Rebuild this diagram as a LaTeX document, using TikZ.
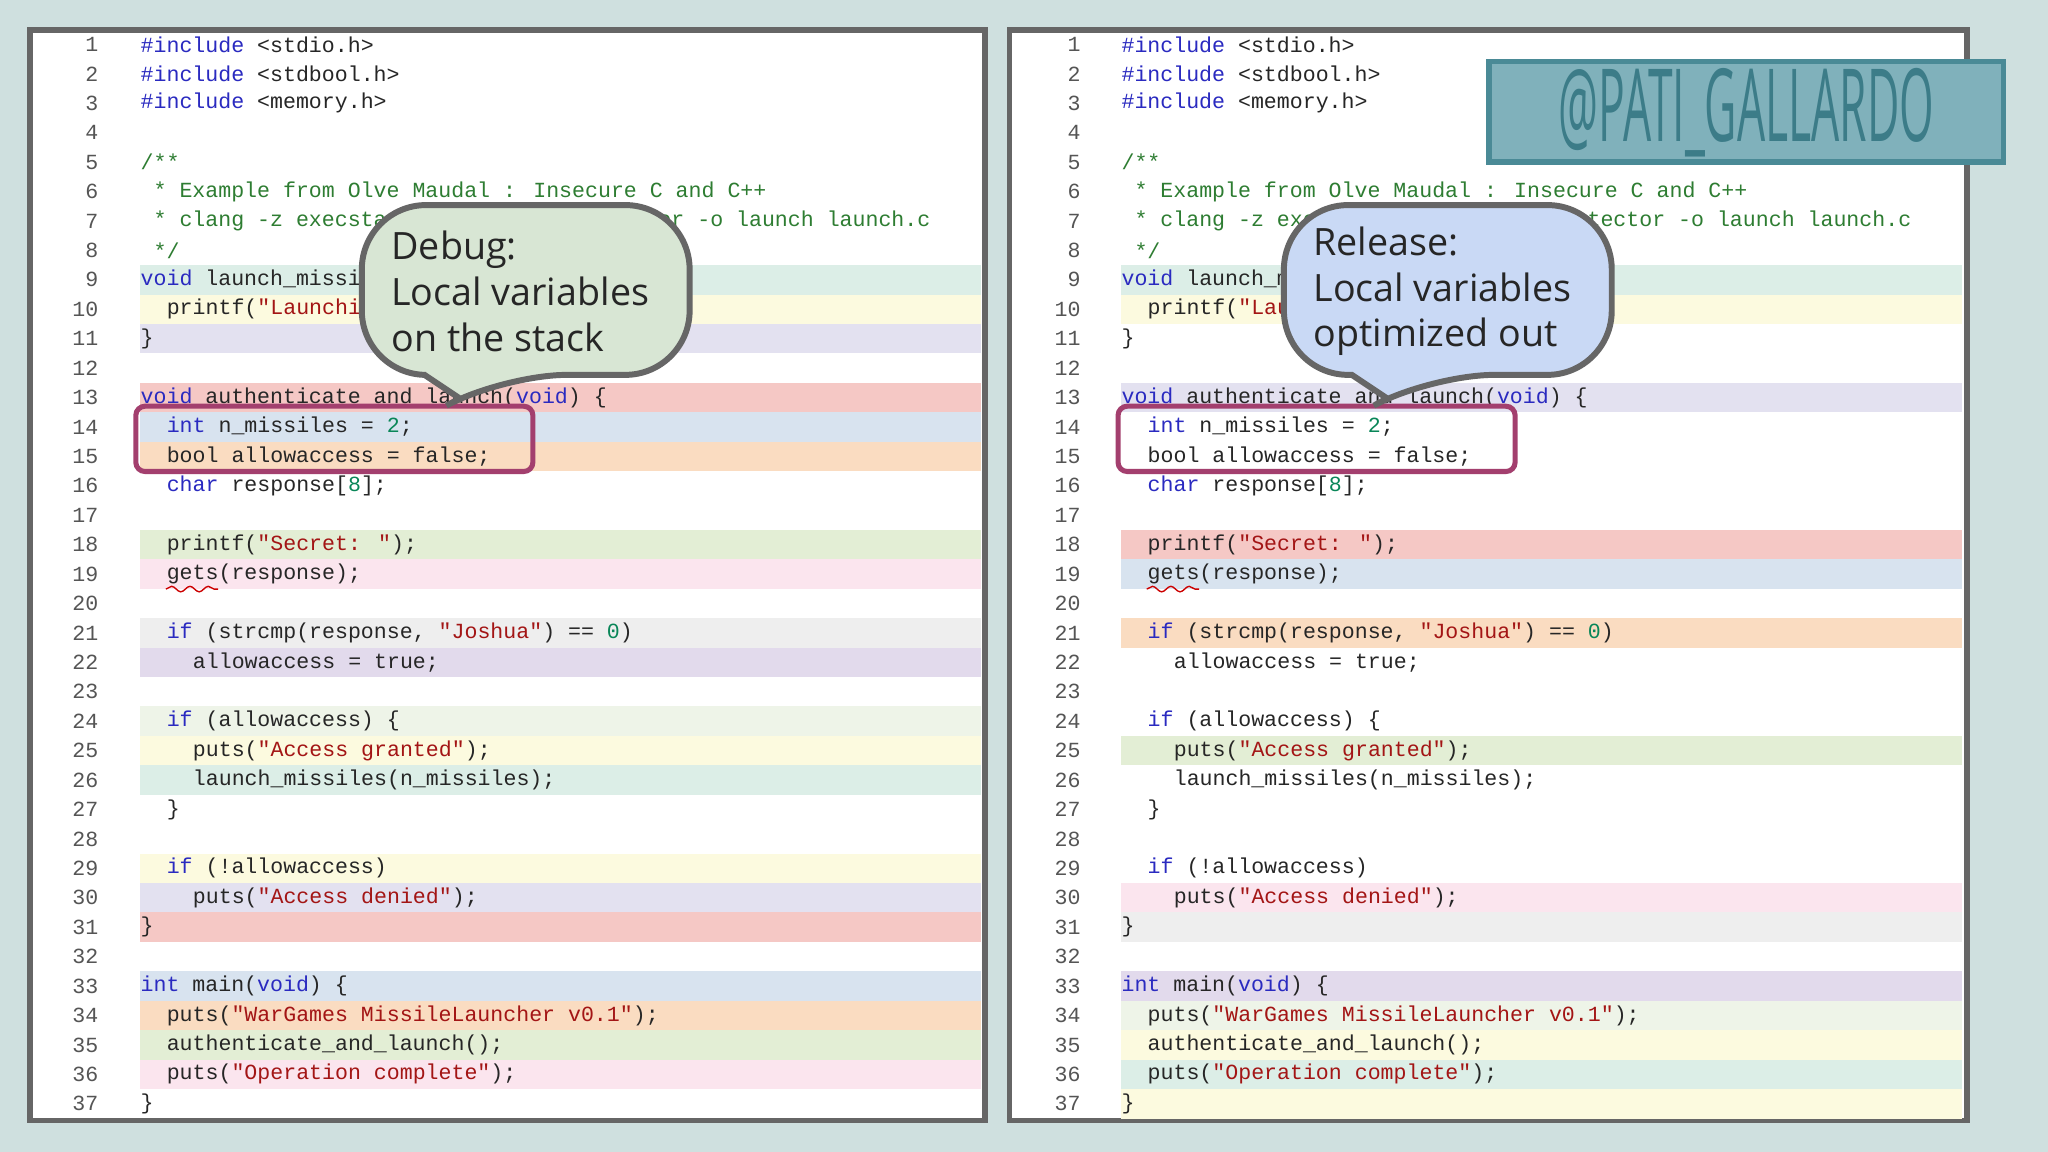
\documentclass[tikz,border=0pt]{standalone}
\usepackage{fontspec}
\usetikzlibrary{decorations.pathmorphing}
\newfontfamily\codefont{Liberation Mono}
\newfontfamily\calfont{Open Sans}
\definecolor{bg}{HTML}{CFE0DF}
\definecolor{frame}{HTML}{666666}
\definecolor{kwc}{HTML}{2A2AC0}
\definecolor{stc}{HTML}{A31515}
\definecolor{nmc}{HTML}{098658}
\definecolor{cmc}{HTML}{2E7D32}
\definecolor{lnc}{HTML}{555555}
\definecolor{cTeal}{HTML}{DCEEE7}
\definecolor{cYel}{HTML}{FCFADF}
\definecolor{cLav}{HTML}{E3E1F0}
\definecolor{cRed}{HTML}{F5C8C5}
\definecolor{cBlue}{HTML}{D8E3EF}
\definecolor{cOr}{HTML}{FADCC1}
\definecolor{cGrn}{HTML}{E3EED5}
\definecolor{cPink}{HTML}{FBE5EE}
\definecolor{cGray}{HTML}{EEEEEE}
\definecolor{cPur}{HTML}{E2DAEC}
\definecolor{cLg}{HTML}{EEF4E8}
\definecolor{boxred}{HTML}{A33F6E}
\definecolor{dbg}{HTML}{D8E6D4}
\definecolor{rel}{HTML}{C9D9F5}
\definecolor{stamp}{HTML}{80B1BB}
\definecolor{stampb}{HTML}{4A8A96}
\definecolor{stampt}{HTML}{3C7C88}
\newcommand\kw[1]{\textcolor{kwc}{#1}}
\newcommand\st[1]{\textcolor{stc}{#1}}
\newcommand\nm[1]{\textcolor{nmc}{#1}}
\newcommand\cm[1]{\textcolor{cmc}{#1}}
\newcommand\cL[3]{\node[code] (cl#1) at ({107+#2*20},{34+(#1-1)*22.53}) {#3};}
\newcommand\cR[3]{\node[code] (cr#1) at ({858+#2*20},{34+(#1-1)*22.53}) {#3};}
\newcommand\bL[2]{\fill[#2] (107,{34+(#1-1)*22.53-11.3}) rectangle (751,{34+(#1-1)*22.53+11.3});}
\newcommand\bR[2]{\fill[#2] (858,{34+(#1-1)*22.53-11.3}) rectangle (1502,{34+(#1-1)*22.53+11.3});}
\tikzset{code/.style={anchor=west,inner sep=0pt,font=\codefont\fontsize{4.7}{6}\selectfont,text=black!85},
lnum/.style={anchor=east,inner sep=0pt,font=\codefont\fontsize{4.7}{6}\selectfont,text=lnc},
panel/.style={fill=white,draw=frame,line width=1.2pt},
callout/.style={draw=frame,line width=1.3pt},
hl/.style={draw=boxred,line width=1.1pt,rounded corners=2pt},
calt/.style={anchor=west,align=left,inner sep=0pt,font=\calfont\fontsize{8.2}{10}\selectfont,text=black!85},
squig/.style={draw=red!80!black,line width=0.3pt,decorate,decoration={snake,amplitude=0.6,segment length=4}}}
\begin{document}
\begin{tikzpicture}[x=0.1mm,y=-0.1mm]
\fill[bg] (0,0) rectangle (1568,882);
\useasboundingbox (0,0) rectangle (1568,882);
\draw[panel] (23,23) rectangle (754,858);
\draw[panel] (773,23) rectangle (1506,858);
% bands left
\bL{9}{cTeal}\bL{10}{cYel}\bL{11}{cLav}\bL{13}{cRed}\bL{14}{cBlue}\bL{15}{cOr}
\bL{18}{cGrn}\bL{19}{cPink}\bL{21}{cGray}\bL{22}{cPur}\bL{24}{cLg}\bL{25}{cYel}
\bL{26}{cTeal}\bL{29}{cYel}\bL{30}{cLav}\bL{31}{cRed}\bL{33}{cBlue}\bL{34}{cOr}
\bL{35}{cGrn}\bL{36}{cPink}
% bands right
\bR{9}{cTeal}\bR{10}{cYel}\bR{13}{cLav}\bR{18}{cRed}\bR{19}{cBlue}\bR{21}{cOr}
\bR{25}{cGrn}\bR{30}{cPink}\bR{31}{cGray}\bR{33}{cPur}\bR{34}{cLg}\bR{35}{cYel}
\bR{36}{cTeal}\bR{37}{cYel}
\foreach \i in {1,...,37}{
 \node[lnum] (nl\i) at (76,{34+(\i-1)*22.53}) {\i};
 \node[lnum] (nr\i) at (828,{34+(\i-1)*22.53}) {\i};}
\foreach \P in {L,R}{
\csname c\P\endcsname{1}{0}{\kw{\#include} <stdio.h>}
\csname c\P\endcsname{2}{0}{\kw{\#include} <stdbool.h>}
\csname c\P\endcsname{3}{0}{\kw{\#include} <memory.h>}
\csname c\P\endcsname{5}{0}{\cm{/**}}
\csname c\P\endcsname{6}{0}{\cm{\ * Example from Olve Maudal : Insecure C and C++}}
\csname c\P\endcsname{7}{0}{\cm{\ * clang -z execstack -fno-stack-protector -o launch launch.c}}
\csname c\P\endcsname{8}{0}{\cm{\ */}}
\csname c\P\endcsname{9}{0}{\kw{void} launch\_missiles(\kw{int} n) \{}
\csname c\P\endcsname{10}{1}{printf(\st{"Launching \%d missiles"});}
\csname c\P\endcsname{11}{0}{\}}
\csname c\P\endcsname{13}{0}{\kw{void} authenticate\_and\_launch(\kw{void}) \{}
\csname c\P\endcsname{14}{1}{\kw{int} n\_missiles = \nm{2};}
\csname c\P\endcsname{15}{1}{bool allowaccess = false;}
\csname c\P\endcsname{16}{1}{\kw{char} response[\nm{8}];}
\csname c\P\endcsname{18}{1}{printf(\st{"Secret: "});}
\csname c\P\endcsname{19}{1}{gets(response);}
\csname c\P\endcsname{21}{1}{\kw{if} (strcmp(response, \st{"Joshua"}) == \nm{0})}
\csname c\P\endcsname{22}{2}{allowaccess = true;}
\csname c\P\endcsname{24}{1}{\kw{if} (allowaccess) \{}
\csname c\P\endcsname{25}{2}{puts(\st{"Access granted"});}
\csname c\P\endcsname{26}{2}{launch\_missiles(n\_missiles);}
\csname c\P\endcsname{27}{1}{\}}
\csname c\P\endcsname{29}{1}{\kw{if} (!allowaccess)}
\csname c\P\endcsname{30}{2}{puts(\st{"Access denied"});}
\csname c\P\endcsname{31}{0}{\}}
\csname c\P\endcsname{33}{0}{\kw{int} main(\kw{void}) \{}
\csname c\P\endcsname{34}{1}{puts(\st{"WarGames MissileLauncher v0.1"});}
\csname c\P\endcsname{35}{1}{authenticate\_and\_launch();}
\csname c\P\endcsname{36}{1}{puts(\st{"Operation complete"});}
\csname c\P\endcsname{37}{0}{\}}
}
\draw[squig] (127,451) -- (167,451);
\draw[squig] (878,451) -- (918,451);
% red boxes
\draw[hl] (104,311) rectangle (408,361);
\draw[hl] (856,311) rectangle (1160,361);
% callouts
\draw[callout,fill=dbg,rounded corners=14] (277,157) -- (528,157) -- (528,287) -- (385,287) [sharp corners] -- (352,305) -- (325,287) [rounded corners=14] -- (277,287) -- cycle;
\node[calt] (dbgt) at (299,223) {Debug:\\Local variables\\on the stack};
\draw[callout,fill=rel,rounded corners=14] (983,157) -- (1234,157) -- (1234,287) -- (1095,287) [sharp corners] -- (1062,305) -- (1035,287) [rounded corners=14] -- (983,287) -- cycle;
\node[calt] (relt) at (1005,223) {Release:\\Local variables\\optimized out};
% stamp
\draw[fill=stamp,draw=stampb,line width=1.2pt] (1140,47) rectangle (1534,124);
\node[inner sep=0pt,text=stampt,font=\calfont\fontsize{22}{22}\selectfont,xscale=0.44] (stampt) at (1337,86) {@PATI\_GALLARDO};
\end{tikzpicture}
\end{document}
